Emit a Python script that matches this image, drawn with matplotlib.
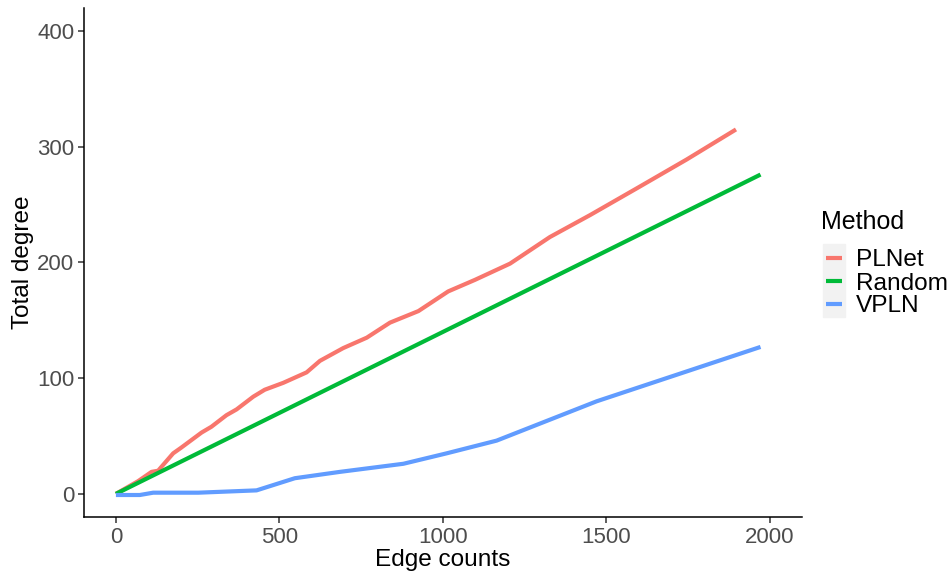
import numpy as np
import matplotlib.pyplot as plt
from matplotlib.patches import Rectangle
from matplotlib.lines import Line2D

plt.rcParams['font.family'] = ['Liberation Sans', 'DejaVu Sans']

plnet_x = [0, 68, 109, 129, 175, 200, 262, 292, 338, 369, 420, 455, 512, 583, 624,
           695, 767, 838, 925, 1016, 1098, 1205, 1327, 1450, 1592, 1745, 1896]
plnet_y = [0, 11, 19, 20, 35, 40, 53, 58, 68, 73, 84, 90, 96, 105, 115,
           126, 135, 148, 158, 175, 185, 199, 222, 241, 264, 289, 315]

random_x = [0, 500, 1000, 1500, 1971]
random_y = [0, 70, 140, 210, 276]

vpln_x = [0, 73, 114, 252, 430, 547, 685, 879, 1011, 1164, 1470, 1971]
vpln_y = [-1, -1, 1, 1, 3, 13.5, 19, 26, 35, 46, 80, 127]

methods = ['PLNet', 'Random', 'VPLN']
colors = ['#F8766D', '#00BA38', '#619CFF']
xticks = [0, 500, 1000, 1500, 2000]
yticks = [0, 100, 200, 300, 400]

W, H = 953, 571
fig = plt.figure(figsize=(W / 100, H / 100), dpi=100)
ax = fig.add_axes([0.088, 0.0946, 0.7536, 0.8914])

series = [(plnet_x, plnet_y), (random_x, random_y), (vpln_x, vpln_y)]
for (xs, ys), name, c in zip(series, methods, colors):
    ax.plot(xs, ys, color=c, lw=3, label=name, solid_capstyle='butt')

ax.set_xlim(-98, 2098)
ax.set_ylim(-20, 420)
ax.set_xticks(xticks)
ax.set_yticks(yticks)
for s in ['top', 'right']:
    ax.spines[s].set_visible(False)
for s in ['left', 'bottom']:
    ax.spines[s].set_color('black')
    ax.spines[s].set_linewidth(1.1)
ax.tick_params(direction='out', length=4, width=1.1, color='#333333',
               labelcolor='#4D4D4D', labelsize=16, pad=3)
ax.set_xlabel('Edge counts', fontsize=17.6, labelpad=1)
ax.set_ylabel('Total degree', fontsize=17.6, labelpad=2)

# legend drawn by hand (ggplot style)
fig.patches.append(Rectangle((823 / W, 1 - 317 / H), 22 / W, 73 / H,
                             transform=fig.transFigure, color='#F2F2F2', zorder=0))
fig.text(821 / W, 1 - 222 / H, 'Method', fontsize=18, va='center', ha='left')
for i, (name, c) in enumerate(zip(methods, colors)):
    yy = 1 - (258 + 23 * i) / H
    fig.lines.append(Line2D([826 / W, 842 / W], [yy, yy], transform=fig.transFigure,
                            color=c, lw=3, solid_capstyle='butt'))
    fig.text(856 / W, yy, name, fontsize=17.6, va='center_baseline', ha='left')

fig.savefig('out.png', dpi=100)
